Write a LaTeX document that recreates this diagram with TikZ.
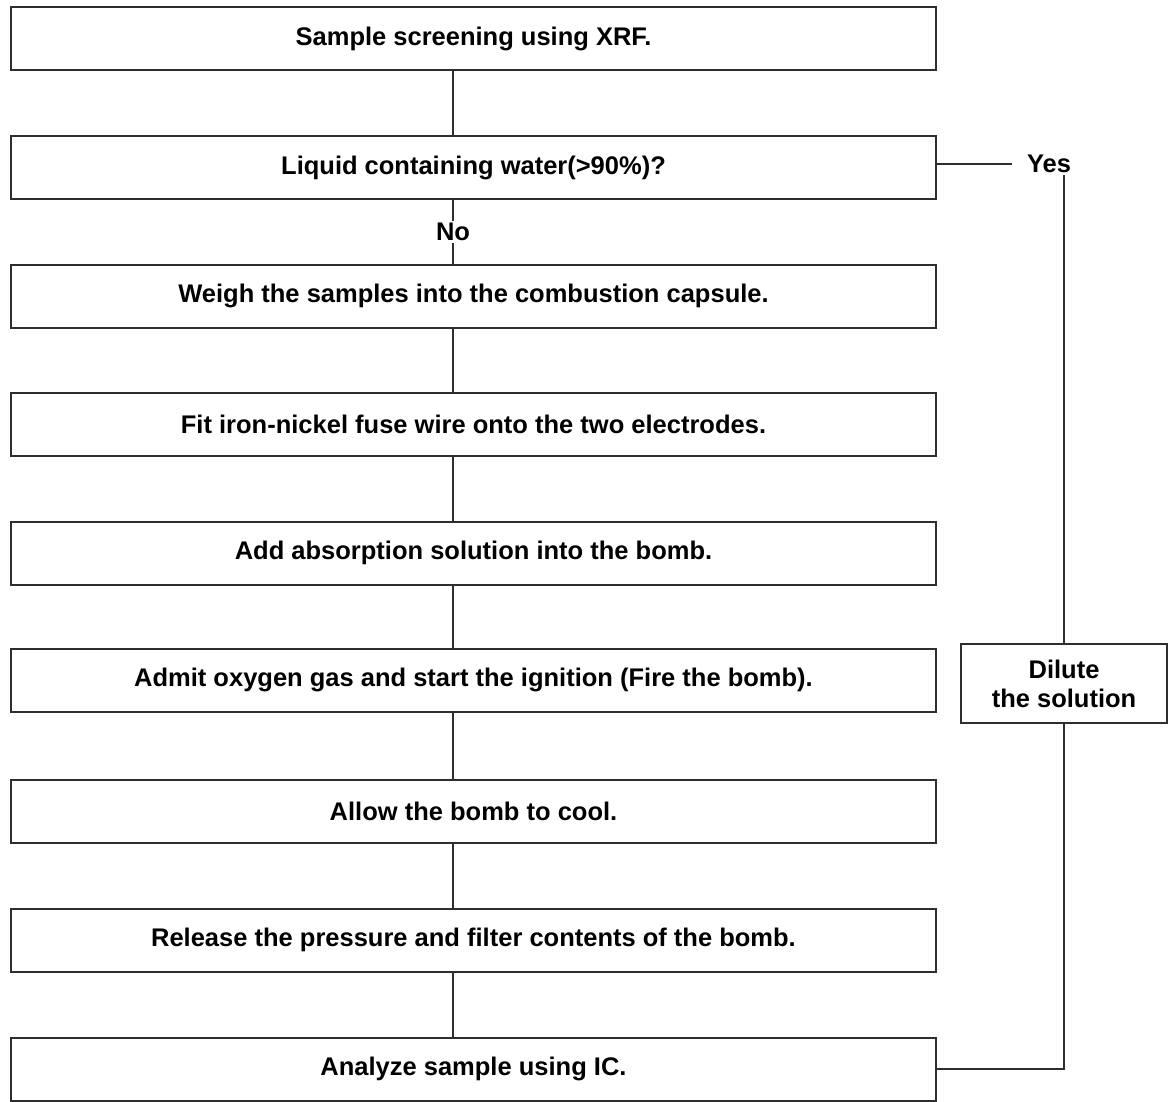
\documentclass[tikz,border=0pt]{standalone}
\usepackage{fontspec}
\setmainfont{Liberation Sans}
\usetikzlibrary{positioning, calc}
\colorlet{rule}{black!82}
\tikzset{
  stepbox/.style ={draw=rule, line width=2pt, minimum width=925pt,
                   minimum height=63pt, inner sep=0pt, align=center,
                   font=\fontsize{25.5}{29}\selectfont\bfseries},
  sidebox/.style ={stepbox, minimum width=206pt, minimum height=79pt},
  tag/.style     ={font=\fontsize{25.5}{29}\selectfont\bfseries, text=black,
                   inner sep=2pt},
  link/.style    ={-, rule, line width=1.6pt},
}

\begin{document}
\begin{tikzpicture}[x=1pt, y=-1pt]
\useasboundingbox (0,0) rectangle (1172,1102);

% --- main column ---
\node[stepbox] (b1) at (473.5,  39) {Sample screening using XRF.};
\node[stepbox] (b2) at (473.5, 168) {Liquid containing water(>90\%)?};
\node[stepbox] (b3) at (473.5, 296) {Weigh the samples into the combustion capsule.};
\node[stepbox] (b4) at (473.5, 424) {Fit iron-nickel fuse wire onto the two electrodes.};
\node[stepbox] (b5) at (473.5, 553) {Add absorption solution into the bomb.};
\node[stepbox] (b6) at (473.5, 680) {Admit oxygen gas and start the ignition (Fire the bomb).};
\node[stepbox] (b7) at (473.5, 811) {Allow the bomb to cool.};
\node[stepbox] (b8) at (473.5, 940) {Release the pressure and filter contents of the bomb.};
\node[stepbox] (b9) at (473.5, 1069) {Analyze sample using IC.};

\coordinate (spine) at (453, 0);

\draw[link] (b1.south -| spine) -- (b2.north -| spine);
\draw[link] (b2.south -| spine) -- node[tag, fill=white] {No} (b3.north -| spine);
\foreach \a/\b in {b3/b4, b4/b5, b5/b6, b6/b7, b7/b8, b8/b9}
  \draw[link] (\a.south -| spine) -- (\b.north -| spine);

% --- yes branch ---
\node[tag] (yes) at (1049, 164) {Yes};
\node[sidebox] (dil) at (1064, 683.5) {Dilute\\the solution};

\draw[link, shorten >=13pt] (b2.east |- yes) -- (yes.west);
\draw[link] (yes.south -| dil.north) -- (dil.north);
\draw[link] (dil.south) |- (b9.east);

\end{tikzpicture}
\end{document}
